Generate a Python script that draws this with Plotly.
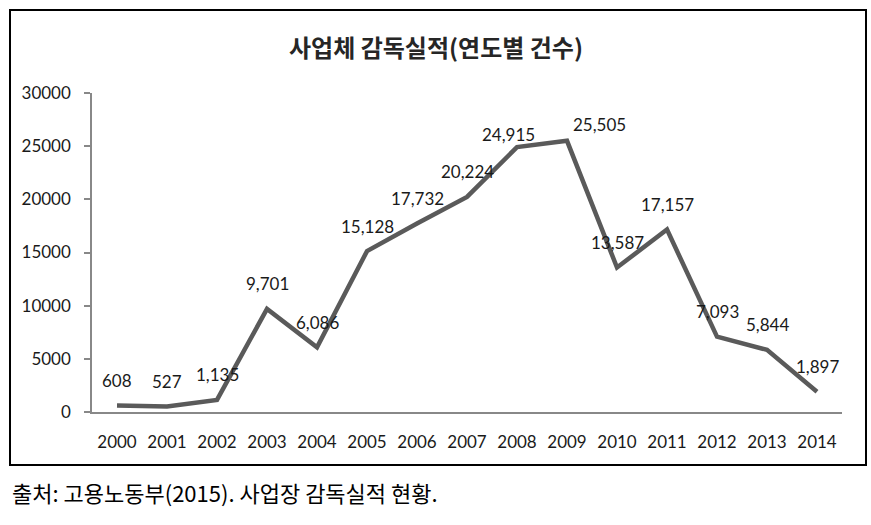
import plotly.graph_objects as go

years = ["2000", "2001", "2002", "2003", "2004", "2005", "2006", "2007",
         "2008", "2009", "2010", "2011", "2012", "2013", "2014"]
counts = [608, 527, 1135, 9701, 6086, 15128, 17732, 20224,
          24915, 25505, 13587, 17157, 7093, 5844, 1897]
y_ticks = [0, 5000, 10000, 15000, 20000, 25000, 30000]

title_text = "사업체 감독실적(연도별 건수)"
source_text = "출처: 고용노동부(2015). 사업장 감독실적 현황."

# label offsets (pixels) for data labels
label_shift = {"2008": (-9, 13), "2009": (32, 16)}
default_shift = (0, 25)

W, H = 871, 525
L, R, T, B = 92, 842, 93, 412  # plot area in pixels


def px_x(p):
    return (p - L) / (R - L)


def px_y(p):
    return (B - p) / (B - T)


fig = go.Figure()
fig.add_trace(go.Scatter(
    x=list(range(len(years))), y=counts, mode="lines",
    line=dict(color="#5a5a5a", width=4.5),
    hoverinfo="y", showlegend=False,
))

annotations = []
for i, (yr, v) in enumerate(zip(years, counts)):
    dx, dy = label_shift.get(yr, default_shift)
    annotations.append(dict(
        x=i, y=v, xref="x", yref="y", text=f"{v:,}", showarrow=False,
        xshift=dx, yshift=dy, xanchor="center", yanchor="middle",
        font=dict(family="Lato, sans-serif", size=17, color="#1a1a1a"),
    ))

annotations.append(dict(
    x=px_x(436), y=px_y(47), xref="paper", yref="paper",
    text=f"<b>{title_text}</b>", showarrow=False,
    xanchor="center", yanchor="middle",
    font=dict(family="Noto Sans CJK KR", size=24, color="#262626"),
))
annotations.append(dict(
    x=px_x(10), y=px_y(492), xref="paper", yref="paper",
    text=source_text, showarrow=False,
    xanchor="left", yanchor="middle",
    font=dict(family="Noto Sans CJK KR", size=22, color="#000000"),
))

fig.update_layout(
    width=W, height=H,
    margin=dict(l=L, r=W - R, t=T, b=H - B, pad=0),
    paper_bgcolor="white", plot_bgcolor="white",
    annotations=annotations,
    shapes=[dict(
        type="rect", xref="paper", yref="paper",
        x0=px_x(10), x1=px_x(866), y0=px_y(465), y1=px_y(10),
        line=dict(color="black", width=2), fillcolor="rgba(0,0,0,0)",
        layer="below",
    )],
    xaxis=dict(
        range=[-0.5, len(years) - 0.5],
        tickvals=list(range(len(years))), ticktext=years,
        showgrid=False, zeroline=False,
        showline=True, linecolor="#888888", linewidth=1.5,
        ticks="", ticklabelstandoff=14,
        tickfont=dict(family="Lato, sans-serif", size=17, color="#1a1a1a"),
        fixedrange=True,
    ),
    yaxis=dict(
        range=[0, 30000], tickvals=y_ticks, tickformat="d",
        showgrid=False, zeroline=False,
        showline=True, linecolor="#888888", linewidth=1.5,
        ticks="outside", ticklen=6, tickcolor="#888888", tickwidth=1.5,
        ticklabelstandoff=10,
        tickfont=dict(family="Lato, sans-serif", size=17, color="#1a1a1a"),
        fixedrange=True,
    ),
)

fig.write_html(
    "out.html",
    config={"displayModeBar": False},
    post_script="document.body.style.margin='0px';document.body.style.padding='0px';",
)
